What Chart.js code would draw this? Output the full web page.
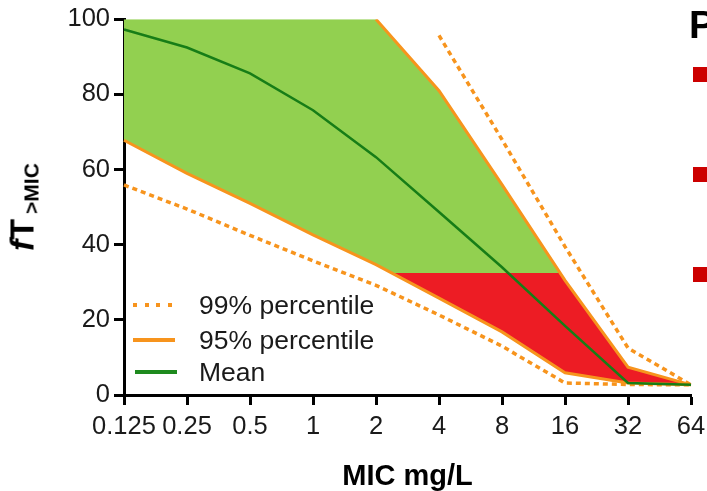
<!DOCTYPE html>
<html>
<head>
<meta charset="utf-8">
<script src="https://cdn.jsdelivr.net/npm/chart.js@4.4.1/dist/chart.umd.min.js"></script>
<style>
  html, body { margin: 0; padding: 0; background: #fff; }
  #wrap { position: relative; width: 707px; height: 491px; overflow: hidden; font-family: "Liberation Sans", Arial, sans-serif; color: #1a1a1a; }
  #c { position: absolute; left: 0; top: 0; }
  .ytitle { position: absolute; left: 23px; top: 207px; transform: translate(-50%, -50%) rotate(-90deg); white-space: nowrap; font-weight: bold; font-size: 34px; line-height: 1; color: #000; }
  .ytitle sub { font-size: 21px; vertical-align: -5px; margin-left: 5px; }
  .leg { position: absolute; left: 133px; font-size: 26.5px; line-height: 26px; white-space: nowrap; }
  .leg span.s { position: absolute; left: 0; width: 42px; height: 4px; top: 11px; }
  .leg span.t { position: absolute; left: 66px; top: 0; }
  .P { position: absolute; left: 689px; top: 5px; font-size: 39px; line-height: 39px; font-weight: bold; color: #000; }
  .sq { position: absolute; left: 693px; width: 15px; height: 15px; background: #cc0000; }
</style>
</head>
<body>
<div id="wrap">
  <canvas id="c" width="707" height="491"></canvas>
  <div class="ytitle"><i>f</i>T<sub>&gt;MIC</sub></div>
  <div class="leg" style="top:292px"><span class="s" style="background:repeating-linear-gradient(90deg,#f7941d 0 4px,transparent 4px 11.7px);"></span><span class="t">99% percentile</span></div>
  <div class="leg" style="top:327px"><span class="s" style="background:#f7941d;"></span><span class="t">95% percentile</span></div>
  <div class="leg" style="top:359px"><span class="s" style="background:#1e8a1e;left:2px;"></span><span class="t">Mean</span></div>
  <div class="P">P</div>
  <div class="sq" style="top:67px"></div>
  <div class="sq" style="top:167px"></div>
  <div class="sq" style="top:267px"></div>
</div>
<script>
// MIC categories (mg/L) and fT>MIC values (%)
var mic = ['0.125', '0.25', '0.5', '1', '2', '4', '8', '16', '32', '64'];
var mean = [97.3, 92.5, 85.6, 75.8, 63.3, 48.7, 34, 18.4, 3.2, 2.7];
var upper95 = [100, 100, 100, 100, 100, 81, 56, 30.5, 7.4, 2.7];
var lower95 = [67.8, 59, 51, 42.6, 34.7, 25.8, 16.8, 5.9, 3.2, 2.7];
var upper99 = [null, null, null, null, null, 95.7, 68, 39.5, 12.5, 2.7];
var lower99 = [55.9, 49.5, 42.5, 35.7, 29.2, 21.3, 13, 3.2, 2.8, 2.7];
var yTicks = [0, 20, 40, 60, 80, 100];
var target = 32.5; // green above, red below

var orange = '#f7941d';
var green = '#92d050';
var red = '#ed1c24';
var dark = '#177d17';

// fills the 95% band, green above the target and red under it
var bandFill = {
  id: 'bandFill',
  beforeDatasetsDraw: function(chart) {
    var up = chart.getDatasetMeta(1).data;
    var lo = chart.getDatasetMeta(2).data;
    var area = chart.chartArea;
    var ty = chart.scales.y.getPixelForValue(target);
    var ctx = chart.ctx;
    function poly() {
      ctx.beginPath();
      for (var i = 0; i < up.length; i++) {
        if (i == 0) ctx.moveTo(up[i].x, up[i].y); else ctx.lineTo(up[i].x, up[i].y);
      }
      for (var j = lo.length - 1; j >= 0; j--) ctx.lineTo(lo[j].x, lo[j].y);
      ctx.closePath();
    }
    ctx.save();
    ctx.beginPath();
    ctx.rect(area.left, area.top, area.right - area.left, ty - area.top);
    ctx.clip();
    poly();
    ctx.fillStyle = green;
    ctx.fill();
    ctx.restore();
    ctx.save();
    ctx.beginPath();
    ctx.rect(area.left, ty, area.right - area.left, area.bottom - ty);
    ctx.clip();
    poly();
    ctx.fillStyle = red;
    ctx.fill();
    ctx.restore();
  }
};

var font = { family: '"Liberation Sans", Arial, sans-serif', size: 25.5 };

new Chart(document.getElementById('c'), {
  type: 'line',
  data: {
    labels: mic,
    datasets: [
      { label: 'Mean', data: mean, borderColor: dark, borderWidth: 2.5, pointRadius: 0, tension: 0 },
      { label: '95% percentile', data: upper95, borderColor: orange, borderWidth: 3, pointRadius: 0,
        segment: { borderColor: function(c) { return c.p0DataIndex < 4 ? 'rgba(0,0,0,0)' : orange; } } },
      { label: '95% percentile', data: lower95, borderColor: orange, borderWidth: 3, pointRadius: 0 },
      { label: '99% percentile', data: upper99, borderColor: orange, borderWidth: 3.5, borderDash: [5, 4], pointRadius: 0 },
      { label: '99% percentile', data: lower99, borderColor: orange, borderWidth: 3.5, borderDash: [5, 4], pointRadius: 0 }
    ]
  },
  options: {
    responsive: false,
    animation: false,
    layout: { padding: { top: 19, right: 16, left: 0, bottom: 0 } },
    plugins: { legend: { display: false }, tooltip: { enabled: false } },
    scales: {
      x: {
        type: 'category',
        offset: false,
        z: 1,
        border: { display: true, color: '#000', width: 3 },
        grid: { display: true, drawOnChartArea: false, drawTicks: true, tickLength: 10, tickWidth: 3, tickColor: '#000' },
        ticks: { color: '#1a1a1a', font: font, padding: 7, maxRotation: 0, autoSkip: false },
        title: { display: true, text: 'MIC mg/L', color: '#000', font: { family: font.family, size: 29, weight: 'bold', lineHeight: 1 }, padding: { top: 0, bottom: 0 } },
        afterFit: function(s) { s.height = 96; s.paddingLeft = 0; s.paddingRight = 0; }
      },
      y: {
        min: 0, max: 100,
        z: 1,
        afterBuildTicks: function(s) { s.ticks = yTicks.map(function(v) { return { value: v }; }); },
        border: { display: true, color: '#000', width: 3 },
        grid: { display: true, drawOnChartArea: false, drawTicks: true, tickLength: 10, tickWidth: 3, tickColor: '#000' },
        ticks: { color: '#1a1a1a', font: font, padding: 4 },
        afterFit: function(s) { s.width = 124; }
      }
    }
  },
  plugins: [bandFill]
});
</script>
</body>
</html>
